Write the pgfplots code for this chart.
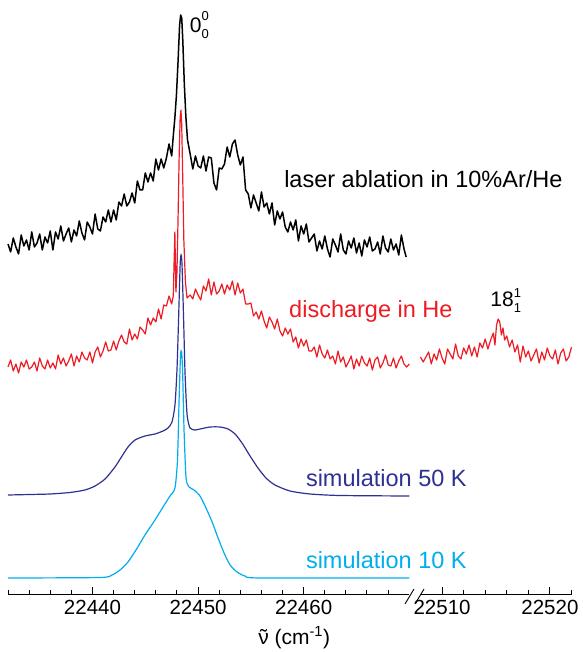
\documentclass[border=0pt]{standalone}
\usepackage{fontspec}
\setmainfont{Liberation Sans}
\usepackage{pgfplots}
\usepackage{pgfplotstable}
\pgfplotsset{compat=1.18}
\definecolor{cred}{HTML}{ED1C24}
\definecolor{cblue}{HTML}{2E3192}
\definecolor{ccyan}{HTML}{00AEEF}

\pgfplotstableread{
x y
22432.00 -244
22432.25 -252
22432.50 -238
22432.75 -247
22433.00 -254
22433.25 -235
22433.50 -246
22433.75 -240
22434.00 -250
22434.25 -232
22434.50 -247
22434.75 -243
22435.00 -234
22435.25 -250
22435.50 -237
22435.75 -243
22436.00 -231
22436.25 -250
22436.50 -232
22436.75 -239
22437.00 -226
22437.25 -241
22437.50 -234
22437.75 -228
22438.00 -242
22438.25 -230
22438.50 -236
22438.75 -221
22439.00 -233
22439.25 -240
22439.50 -222
22439.75 -227
22440.00 -234
22440.25 -214
22440.50 -229
22440.75 -231
22441.00 -217
22441.25 -222
22441.50 -210
22441.75 -222
22442.00 -210
22442.25 -220
22442.50 -202
22442.75 -206
22443.00 -194
22443.25 -206
22443.50 -202
22443.75 -193
22444.00 -203
22444.25 -181
22444.50 -190
22444.75 -190
22445.00 -173
22445.25 -182
22445.50 -173
22445.75 -181
22446.00 -159
22446.25 -170
22446.50 -159
22446.75 -168
22447.00 -158
22447.25 -144
22447.50 -156
22447.65 -136
22447.80 -118
22447.95 -95
22448.10 -62
22448.25 -25
22448.35 -15
22448.45 -18
22448.55 -40
22448.70 -85
22448.85 -118
22449.00 -140
22449.25 -154
22449.50 -169
22449.75 -156
22450.00 -166
22450.25 -168
22450.50 -156
22450.75 -171
22451.00 -157
22451.25 -158
22451.50 -183
22451.75 -190
22452.00 -168
22452.25 -169
22452.50 -164
22452.75 -147
22453.00 -157
22453.25 -144
22453.50 -140
22453.75 -155
22454.00 -165
22454.25 -157
22454.50 -190
22454.75 -194
22455.00 -208
22455.25 -195
22455.50 -203
22455.75 -211
22456.00 -192
22456.25 -207
22456.50 -203
22456.75 -214
22457.00 -203
22457.25 -225
22457.50 -211
22457.75 -219
22458.00 -212
22458.25 -227
22458.50 -232
22458.75 -222
22459.00 -230
22459.25 -220
22459.50 -241
22459.75 -226
22460.00 -234
22460.25 -224
22460.50 -242
22460.75 -238
22461.00 -234
22461.25 -251
22461.50 -241
22461.75 -249
22462.00 -236
22462.25 -249
22462.50 -257
22462.75 -239
22463.00 -245
22463.25 -252
22463.50 -234
22463.75 -250
22464.00 -254
22464.25 -241
22464.50 -248
22464.75 -238
22465.00 -253
22465.25 -243
22465.50 -256
22465.75 -240
22466.00 -247
22466.25 -237
22466.50 -251
22466.75 -249
22467.00 -242
22467.25 -254
22467.50 -236
22467.75 -248
22468.00 -252
22468.25 -239
22468.50 -250
22468.75 -244
22469.00 -255
22469.25 -235
22469.50 -249
22469.70 -257
}\blackdata

\pgfplotstableread{
x y
22432.00 -367
22432.25 -360
22432.50 -371
22432.75 -364
22433.00 -373
22433.25 -362
22433.50 -367
22433.75 -360
22434.00 -369
22434.25 -367
22434.50 -362
22434.75 -371
22435.00 -358
22435.25 -366
22435.50 -369
22435.75 -360
22436.00 -368
22436.25 -363
22436.50 -369
22436.75 -355
22437.00 -364
22437.25 -358
22437.50 -366
22437.75 -361
22438.00 -354
22438.25 -366
22438.50 -356
22438.75 -362
22439.00 -352
22439.25 -358
22439.50 -360
22439.75 -352
22440.00 -363
22440.25 -352
22440.50 -347
22440.75 -357
22441.00 -351
22441.25 -342
22441.50 -351
22441.75 -350
22442.00 -341
22442.25 -350
22442.50 -341
22442.75 -335
22443.00 -342
22443.25 -344
22443.50 -329
22443.75 -340
22444.00 -334
22444.25 -339
22444.50 -327
22444.75 -330
22445.00 -334
22445.25 -318
22445.50 -325
22445.75 -318
22446.00 -322
22446.25 -309
22446.50 -319
22446.75 -305
22447.00 -306
22447.25 -296
22447.50 -304
22447.65 -296
22447.80 -232
22447.90 -292
22448.00 -272
22448.10 -220
22448.20 -160
22448.30 -118
22448.38 -110
22448.45 -125
22448.55 -180
22448.65 -240
22448.80 -282
22448.95 -298
22449.25 -295
22449.50 -299
22449.75 -289
22450.00 -295
22450.25 -300
22450.50 -286
22450.75 -291
22451.00 -279
22451.25 -295
22451.50 -282
22451.75 -294
22452.00 -291
22452.25 -284
22452.50 -294
22452.75 -285
22453.00 -290
22453.25 -281
22453.50 -295
22453.75 -283
22454.00 -293
22454.25 -289
22454.50 -304
22454.75 -304
22455.00 -303
22455.25 -316
22455.50 -312
22455.75 -319
22456.00 -311
22456.25 -321
22456.50 -328
22456.75 -317
22457.00 -322
22457.25 -329
22457.50 -319
22457.75 -331
22458.00 -336
22458.25 -328
22458.50 -334
22458.75 -329
22459.00 -342
22459.25 -337
22459.50 -348
22459.75 -339
22460.00 -346
22460.25 -340
22460.50 -351
22460.75 -351
22461.00 -347
22461.25 -357
22461.50 -345
22461.75 -354
22462.00 -358
22462.25 -350
22462.50 -359
22462.75 -356
22463.00 -364
22463.25 -351
22463.50 -362
22463.75 -357
22464.00 -367
22464.25 -362
22464.50 -356
22464.75 -369
22465.00 -359
22465.25 -366
22465.50 -356
22465.75 -363
22466.00 -366
22466.25 -358
22466.50 -370
22466.75 -360
22467.00 -357
22467.25 -368
22467.50 -363
22467.75 -355
22468.00 -365
22468.25 -366
22468.50 -358
22468.75 -368
22469.00 -361
22469.25 -356
22469.50 -364
22469.75 -367
22470.00 -364
}\reddata

\pgfplotstableread{
x y
22508.00 -357
22508.25 -362
22508.50 -357
22508.75 -352
22509.00 -364
22509.25 -354
22509.50 -360
22509.75 -349
22510.00 -358
22510.25 -364
22510.50 -349
22510.75 -354
22511.00 -359
22511.25 -344
22511.50 -356
22511.75 -359
22512.00 -348
22512.25 -354
22512.50 -345
22512.75 -356
22513.00 -347
22513.25 -357
22513.50 -343
22513.75 -348
22514.00 -339
22514.25 -349
22514.50 -340
22514.75 -333
22514.90 -345
22515.05 -325
22515.20 -319
22515.35 -322
22515.50 -335
22515.65 -328
22515.80 -340
22516.00 -336
22516.25 -347
22516.50 -340
22516.75 -352
22517.00 -345
22517.25 -362
22517.50 -346
22517.75 -357
22518.00 -351
22518.25 -361
22518.50 -355
22518.75 -349
22519.00 -363
22519.25 -352
22519.50 -360
22519.75 -348
22520.00 -356
22520.25 -359
22520.50 -350
22520.75 -364
22521.00 -353
22521.25 -349
22521.50 -361
22521.75 -357
22522.00 -347
}\redright

\pgfplotstableread{
x y
22432.00 -495
22434.08 -494.5
22435.98 -494
22437.87 -492.5
22439.29 -490
22440.24 -486
22441.19 -479
22442.13 -467
22442.80 -456
22443.36 -447
22444.03 -440
22444.97 -436
22445.92 -434
22446.68 -431
22447.15 -428
22447.53 -422
22447.81 -405
22448.00 -370
22448.15 -320
22448.30 -265
22448.39 -255
22448.48 -265
22448.63 -320
22448.77 -375
22448.96 -415
22449.24 -428
22449.72 -430
22450.18 -429
22451.14 -427
22452.08 -427
22452.83 -429
22453.50 -434
22454.16 -443
22454.92 -456
22455.67 -468
22456.43 -478
22457.28 -485
22458.70 -491
22460.60 -494
22463.44 -495.5
22470.00 -496
}\bluedata

\pgfplotstableread{
x y
22432.00 -578
22440.71 -577.5
22441.85 -575
22442.61 -570
22443.36 -562
22444.12 -550
22444.97 -535
22445.92 -520
22446.68 -507
22447.34 -496
22447.81 -488
22448.05 -460
22448.20 -400
22448.34 -355
22448.44 -352
22448.53 -370
22448.67 -430
22448.86 -478
22449.15 -487
22449.62 -490
22450.18 -496
22450.75 -508
22451.33 -522
22451.89 -538
22452.46 -553
22453.03 -565
22453.69 -572
22454.44 -576
22455.86 -578
22470.00 -578
}\cyandata

\pgfplotsset{
  brk/.style={
    scale only axis, height=594pt,
    ymin=-594, ymax=0,
    axis x line*=bottom,
    axis y line=none,
    ytick=\empty,
    xtick align=inside,
    major tick length=7pt,
    minor tick length=3.5pt,
    tick style={black, line width=0.9pt},
    axis line style={black, line width=0.9pt},
    scaled x ticks=false,
    xticklabel style={font=\fontsize{20.5}{24}\selectfont, yshift=-3pt},
    /pgf/number format/assume math mode=true,
    /pgf/number format/1000 sep={},
    /pgf/number format/fixed,
    clip=false,
    anchor=south west,
  }
}

\begin{document}
\begin{tikzpicture}
\begin{axis}[brk, name=L, at={(8pt,58pt)}, width=401.3pt,
  xmin=22432, xmax=22470,
  xtick={22440,22450,22460},
  minor xtick={22432,22434,...,22468}]
\addplot[black, line width=1.5pt, line join=round] table {\blackdata};
\addplot[cred, line width=1.2pt, line join=round] table {\reddata};
\addplot[cblue, line width=1.2pt, smooth, tension=0.4] table {\bluedata};
\addplot[ccyan, line width=1.2pt, smooth, tension=0.4] table {\cyandata};
\node[anchor=base west, inner sep=0pt, font=\fontsize{21}{24}\selectfont] at (axis cs:22449.2,-33) {0\rlap{\raisebox{12pt}{\fontsize{13}{14}\selectfont 0}}\raisebox{-6pt}{\fontsize{13}{14}\selectfont 0}};
\node[anchor=base west, inner sep=0pt, font=\fontsize{23.5}{26}\selectfont] at (axis cs:22458.14,-188) {laser ablation in 10\%Ar/He};
\node[anchor=base west, inner sep=0pt, text=cred, font=\fontsize{23.5}{26}\selectfont] at (axis cs:22458.61,-318) {discharge in He};
\node[anchor=base west, inner sep=0pt, text=cblue, font=\fontsize{23.5}{26}\selectfont] at (axis cs:22460.2,-487) {simulation 50 K};
\node[anchor=base west, inner sep=0pt, text=ccyan, font=\fontsize{23.5}{26}\selectfont] at (axis cs:22460.2,-569) {simulation 10 K};
\node[anchor=base, inner sep=0pt, font=\fontsize{21}{25}\selectfont] at (axis cs:22459.1,-644) {\ooalign{ν\cr\hfil\char"02DC\hfil\cr} (cm\textsuperscript{-1})};
\end{axis}
\begin{axis}[brk, name=R, at={(420.5pt,58pt)}, width=151pt,
  xmin=22508, xmax=22522,
  xtick={22510,22520},
  minor xtick={22510,22512,...,22522}]
\addplot[cred, line width=1.2pt, line join=round] table {\redright};
\node[anchor=base west, inner sep=0pt, font=\fontsize{21}{24}\selectfont] at (axis cs:22514.47,-307) {18\rlap{\raisebox{9pt}{\fontsize{13}{14}\selectfont 1}}\raisebox{-6pt}{\fontsize{13}{14}\selectfont 1}};
\end{axis}
\draw[black, line width=0.9pt] (405pt,48pt) -- (414pt,63pt);
\draw[black, line width=0.9pt] (415pt,48pt) -- (424pt,63pt);
\pgfresetboundingbox
\path[use as bounding box] (0pt,0pt) rectangle (582pt,652pt);
\end{tikzpicture}
\end{document}
